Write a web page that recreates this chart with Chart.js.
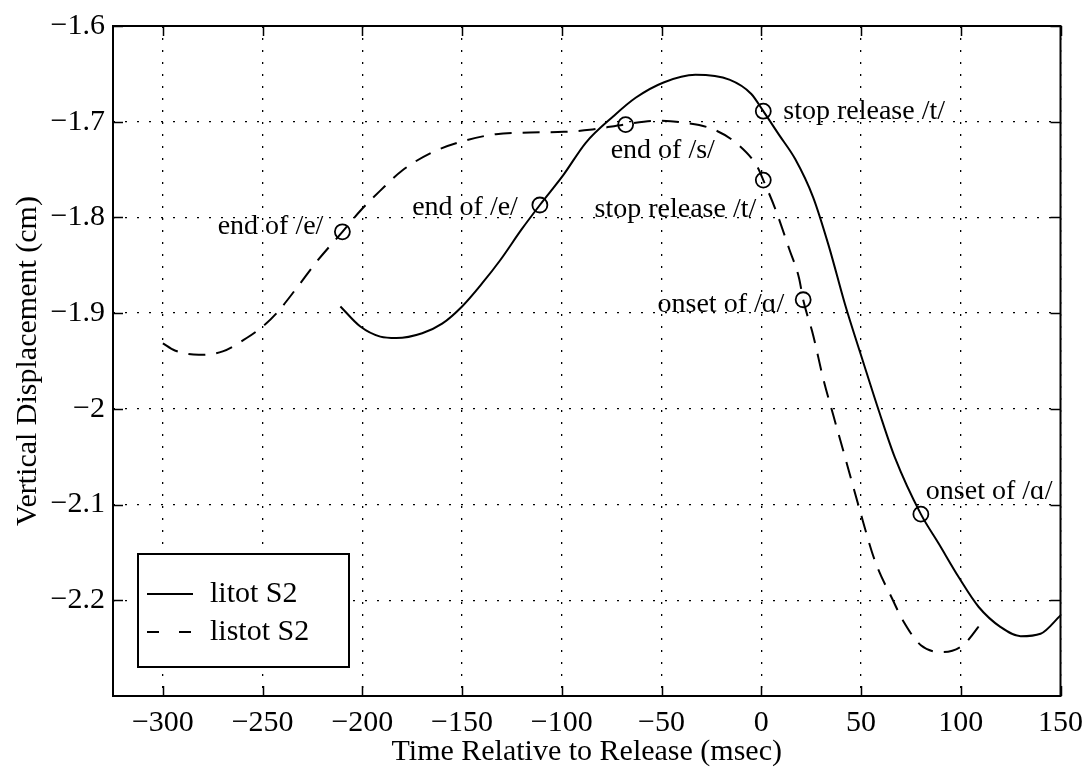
<!DOCTYPE html>
<html>
<head>
<meta charset="utf-8">
<script src="https://cdn.jsdelivr.net/npm/chart.js@4.4.0/dist/chart.umd.min.js"></script>
<style>
  html, body { margin: 0; padding: 0; background: #fff; }
  canvas { display: block; }
</style>
</head>
<body>
<canvas id="myChart" width="1092" height="772"></canvas>
<script>
// litot S2 (solid)
const litotX = [-211, -201, -191, -183, -170, -160, -150, -140, -131, -120, -111, -99, -88, -74, -63, -49, -33, -16, -5, 1, 9, 17, 26, 34, 42, 51, 59, 67, 80, 89, 99, 109, 120, 130, 140, 150];
const litotY = [-1.893, -1.914, -1.9245, -1.926, -1.921, -1.911, -1.893, -1.869, -1.845, -1.812, -1.787, -1.755, -1.722, -1.694, -1.675, -1.659, -1.651, -1.656, -1.671, -1.689, -1.714, -1.739, -1.779, -1.831, -1.891, -1.9505, -2.0025, -2.051, -2.110, -2.141, -2.176, -2.207, -2.228, -2.2376, -2.235, -2.2158];

// listot S2 (dashed)
const listotX = [-300, -294, -282, -270, -258, -250, -243, -233, -223, -210, -201, -191, -180, -165, -149, -133, -116, -99, -86, -68, -53, -39, -24, -11, -2, 1, 7, 14, 19, 21, 26, 31, 36, 41, 49, 57, 66, 71, 80, 91, 101, 112];
const listotY = [-1.9315, -1.939, -1.9436, -1.940, -1.926, -1.914, -1.900, -1.874, -1.8465, -1.815, -1.793, -1.772, -1.751, -1.732, -1.720, -1.713, -1.7113, -1.7106, -1.7085, -1.7027, -1.699, -1.701, -1.708, -1.725, -1.747, -1.761, -1.791, -1.833, -1.864, -1.886, -1.923, -1.968, -2.006, -2.043, -2.103, -2.159, -2.200, -2.221, -2.247, -2.254, -2.247, -2.219];

// event markers
const litotMarkX = [-111, 1, 80];
const litotMarkY = [-1.787, -1.689, -2.110];
const litotMarkText = ['end of /e/', 'stop release /t/', 'onset of /\u0251/'];
const listotMarkX = [-210, -68, 1, 21];
const listotMarkY = [-1.815, -1.703, -1.761, -1.886];
const listotMarkText = ['end of /e/', 'end of /s/', 'stop release /t/', 'onset of /\u0251/'];

const xTicks = [-300, -250, -200, -150, -100, -50, 0, 50, 100, 150];
const yTicks = [-2.2, -2.1, -2, -1.9, -1.8, -1.7, -1.6];
const seriesNames = ['litot S2', 'listot S2'];

// label placement (pixels from the marker)
const litotLabelPos = [
    { dx: -22, dy: 3, align: 'right' },
    { dx: 20, dy: 0, align: 'left' },
    { dx: 5, dy: -23, align: 'left' }
];
const listotLabelPos = [
    { dx: -19, dy: -5, align: 'right' },
    { dx: -15, dy: 26, align: 'left' },
    { dx: -7, dy: 30, align: 'right' },
    { dx: -19, dy: 5, align: 'right' }
];

const FONT = "'Liberation Serif', 'Times New Roman', 'DejaVu Serif', serif";
const DASH = [17, 11];

function points(xs, ys) {
    return xs.map((x, i) => ({ x: x, y: ys[i] }));
}

function fmt(v) {
    return String(v).replace('-', '\u2212');
}

const framePlugin = {
    id: 'frame',
    afterDatasetsDraw(chart) {
        const ctx = chart.ctx;
        const a = chart.chartArea;
        const xs = chart.scales.x;
        const ys = chart.scales.y;
        ctx.save();
        ctx.strokeStyle = '#000';
        ctx.setLineDash([]);
        ctx.lineWidth = 1.5;
        ctx.beginPath();
        xTicks.forEach(v => {
            const p = Math.round(xs.getPixelForValue(v)) + 0.5;
            ctx.moveTo(p, a.bottom); ctx.lineTo(p, a.bottom - 10);
            ctx.moveTo(p, a.top); ctx.lineTo(p, a.top + 10);
        });
        yTicks.forEach(v => {
            const p = Math.round(ys.getPixelForValue(v)) + 0.5;
            ctx.moveTo(a.left, p); ctx.lineTo(a.left + 10, p);
            ctx.moveTo(a.right, p); ctx.lineTo(a.right - 10, p);
        });
        ctx.stroke();
        ctx.lineWidth = 2;
        ctx.strokeRect(a.left, a.top, a.right - a.left, a.bottom - a.top);
        ctx.restore();
    },
    afterDraw(chart) {
        const ctx = chart.ctx;
        const a = chart.chartArea;
        const xs = chart.scales.x;
        const ys = chart.scales.y;
        ctx.save();
        ctx.fillStyle = '#000';
        ctx.textBaseline = 'middle';
        ctx.font = '28px ' + FONT;
        function labels(mx, my, texts, pos) {
            texts.forEach((t, i) => {
                ctx.textAlign = pos[i].align;
                ctx.fillText(t, xs.getPixelForValue(mx[i]) + pos[i].dx, ys.getPixelForValue(my[i]) + pos[i].dy);
            });
        }
        labels(litotMarkX, litotMarkY, litotMarkText, litotLabelPos);
        labels(listotMarkX, listotMarkY, listotMarkText, listotLabelPos);

        // legend box
        const lx = a.left + 25, ly = a.bottom - 142, lw = 211, lh = 113;
        ctx.fillStyle = '#fff';
        ctx.fillRect(lx, ly, lw, lh);
        ctx.strokeStyle = '#000';
        ctx.lineWidth = 2;
        ctx.strokeRect(lx, ly, lw, lh);
        ctx.beginPath();
        ctx.moveTo(lx + 9, ly + 40); ctx.lineTo(lx + 55, ly + 40);
        ctx.stroke();
        ctx.setLineDash([12, 20]);
        ctx.beginPath();
        ctx.moveTo(lx + 9, ly + 78); ctx.lineTo(lx + 55, ly + 78);
        ctx.stroke();
        ctx.setLineDash([]);
        ctx.fillStyle = '#000';
        ctx.textAlign = 'left';
        ctx.font = '30px ' + FONT;
        ctx.fillText(seriesNames[0], lx + 72, ly + 40);
        ctx.fillText(seriesNames[1], lx + 72, ly + 78);
        ctx.restore();
    }
};

const markerStyle = {
    showLine: false,
    pointRadius: 7.5,
    pointStyle: 'circle',
    pointBorderColor: '#000',
    pointBackgroundColor: 'rgba(0,0,0,0)',
    pointBorderWidth: 1.8
};

const config = {
    type: 'scatter',
    data: {
        datasets: [
            {
                label: seriesNames[0],
                data: points(litotX, litotY),
                showLine: true,
                borderColor: '#000',
                borderWidth: 2,
                pointRadius: 0,
                cubicInterpolationMode: 'monotone'
            }, {
                label: seriesNames[1],
                data: points(listotX, listotY),
                showLine: true,
                borderColor: '#000',
                borderWidth: 2,
                borderDash: DASH,
                pointRadius: 0,
                cubicInterpolationMode: 'monotone'
            },
            Object.assign({ label: 'litot events', data: points(litotMarkX, litotMarkY) }, markerStyle),
            Object.assign({ label: 'listot events', data: points(listotMarkX, listotMarkY) }, markerStyle)
        ]
    },
    options: {
        responsive: false,
        animation: false,
        devicePixelRatio: 1,
        layout: { padding: { left: 0, top: 23, right: 26, bottom: 0 } },
        plugins: {
            legend: { display: false },
            tooltip: { enabled: false }
        },
        scales: {
            x: {
                type: 'linear',
                min: -325,
                max: 150,
                afterBuildTicks: s => { s.ticks = xTicks.map(v => ({ value: v })); },
                afterFit: s => { s.height = 76; },
                ticks: {
                    color: '#000',
                    font: { family: FONT, size: 30 },
                    padding: 9,
                    maxRotation: 0,
                    autoSkip: false,
                    callback: v => fmt(v)
                },
                grid: { color: '#000', lineWidth: 1.3, drawTicks: false },
                border: { display: false, dash: [2, 10] },
                title: {
                    display: true,
                    text: 'Time Relative to Release (msec)',
                    color: '#000',
                    font: { family: FONT, size: 30 },
                    padding: { top: 0, bottom: 2 }
                }
            },
            y: {
                type: 'linear',
                min: -2.3,
                max: -1.6,
                afterBuildTicks: s => { s.ticks = yTicks.map(v => ({ value: v })); },
                afterFit: s => { s.width = 113; },
                ticks: {
                    color: '#000',
                    font: { family: FONT, size: 30 },
                    padding: 8,
                    autoSkip: false,
                    callback: v => fmt(v)
                },
                grid: { color: '#000', lineWidth: 1.3, drawTicks: false },
                border: { display: false, dash: [2, 10] },
                title: {
                    display: true,
                    text: 'Vertical Displacement (cm)',
                    color: '#000',
                    font: { family: FONT, size: 30 },
                    padding: { top: 10, bottom: 0 }
                }
            }
        }
    },
    plugins: [framePlugin]
};

let myChart;

function init() {
    myChart = new Chart(
        document.getElementById('myChart'),
        config
    );
}

init();
</script>
</body>
</html>
